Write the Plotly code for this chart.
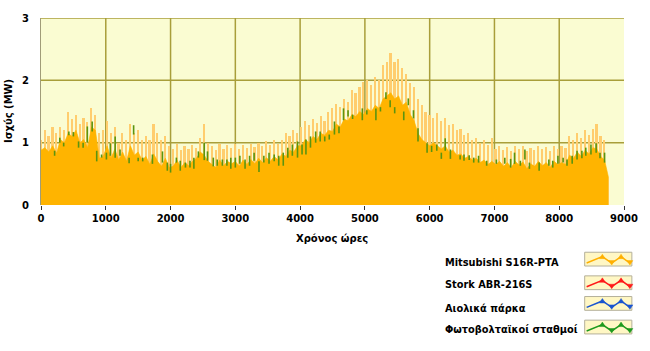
import plotly.graph_objects as go

# ---------------- data ----------------
HOURS = list(range(0, 8760, 60)) + [8759]

PEAK = [
    1.05, 1.2, 1.1, 1.25, 1.15, 1.25, 1.2, 1.5, 1.38, 1.45, 1.3, 1.4, 1.33, 1.55, 1.45, 1.15, 1.2,
    1.35, 1.15, 1.25, 1.0, 1.15, 1.05, 1.3, 1.15, 1.2, 1.05, 1.1, 1.05, 1.3, 1.15, 1.05, 1.1, 0.95,
    0.9, 0.98, 0.88, 0.95, 0.9, 0.97, 0.92, 1.08, 1.3, 1.0, 0.95, 0.88, 0.98, 0.9, 0.97, 0.92,
    0.98, 0.9, 0.97, 0.92, 0.98, 0.93, 1.0, 0.95, 1.02, 0.97, 1.05, 0.98, 1.05, 1.15, 1.1, 1.2, 1.15,
    1.25, 1.35, 1.28, 1.38, 1.32, 1.42, 1.35, 1.5, 1.55, 1.62, 1.58, 1.7, 1.65, 1.85, 1.8, 1.9, 1.98,
    2.0, 1.92, 2.05, 2.0, 2.25, 2.3, 2.44, 2.3, 2.35, 2.2, 2.1, 1.95, 1.9, 1.7, 1.6, 1.5,
    1.45, 1.4, 1.48, 1.35, 1.4, 1.28, 1.3, 1.2, 1.22, 1.12, 1.15, 1.05, 1.08, 1.0, 1.05, 0.97, 1.07,
    0.9, 0.95, 0.88, 0.93, 0.87, 0.95, 0.9, 0.94, 0.86, 0.92, 0.88, 0.95, 0.9, 0.93, 0.87, 0.95, 0.9,
    0.95, 0.92, 1.1, 1.05, 1.15, 1.08, 1.2, 1.12, 1.22, 1.3, 1.1, 1.05,
    0.45,
]

BASE = [
    0.88, 0.92, 0.85, 0.95, 0.83, 1.05, 1.0, 1.15, 1.1, 1.2, 1.0, 1.05, 0.92, 1.25, 1.2, 0.75, 0.78,
    0.95, 0.75, 0.9, 0.72, 0.85, 0.7, 0.95, 0.8, 0.85, 0.72, 0.78, 0.65, 0.82, 0.7, 0.62, 0.75, 0.6,
    0.62, 0.72, 0.6, 0.68, 0.63, 0.7, 0.75, 0.85, 0.8, 0.7, 0.65, 0.6, 0.72, 0.63, 0.7, 0.66,
    0.7, 0.62, 0.72, 0.65, 0.73, 0.66, 0.75, 0.68, 0.76, 0.7, 0.78, 0.72, 0.82, 0.78, 0.88, 0.85, 0.95,
    0.95, 1.05, 1.0, 1.1, 1.05, 1.15, 1.12, 1.2, 1.18, 1.3, 1.25, 1.38, 1.35, 1.45, 1.42, 1.5, 1.45,
    1.55, 1.5, 1.6, 1.55, 1.7, 1.75, 1.8, 1.7, 1.75, 1.6, 1.65, 1.45, 1.35, 1.15, 1.05, 1.0,
    0.95, 1.0, 0.95, 0.9, 0.95, 0.85, 0.88, 0.8, 0.82, 0.75, 0.78, 0.72, 0.75, 0.68, 0.72, 0.65, 0.7,
    0.65, 0.7, 0.62, 0.68, 0.6, 0.7, 0.64, 0.69, 0.58, 0.66, 0.62, 0.7, 0.63, 0.68, 0.6, 0.7, 0.65,
    0.68, 0.65, 0.8, 0.75, 0.85, 0.78, 0.88, 0.82, 0.92, 0.9, 0.78, 0.72,
    0.45,
]

# photovoltaic contribution segments: hour, low, high
PV_HOURS = [210, 290, 350, 430, 500, 580, 650, 715, 790, 860, 935, 1010, 1070, 1145, 1220, 1360, 1430,
            1500, 1570, 1720, 1875, 1950, 2000, 2090, 2150, 2230, 2300, 2360, 2430, 2520, 2570, 2660,
            2720, 2800, 2870, 2930, 3000, 3070, 3150, 3220, 3290, 3365, 3440, 3520, 3600, 3670, 3740,
            3810, 3880, 3960, 4030, 4090, 4160, 4240, 4310, 4380, 4450, 4530, 4600, 4670, 4740, 4810,
            4960, 5030, 5170, 5240, 5325, 5390, 5460, 5600, 5670, 5750, 5820, 5960, 6030, 6110, 6180,
            6240, 6320, 6470, 6530, 6610, 6680, 6755, 6880, 7030, 7160, 7250, 7310, 7400, 7470, 7540,
            7690, 7840, 7900, 7980, 8060, 8120, 8200, 8275, 8350, 8410, 8490, 8570, 8630, 8700]
PV_LO = [0.79, 1.0, 0.94, 1.12, 1.1, 0.92, 0.92, 1.0, 1.18, 0.7, 0.76, 0.73, 0.79, 0.76, 0.79, 0.67, 1.13,
         0.7, 0.7, 0.66, 0.68, 0.55, 0.52, 0.68, 0.55, 0.6, 0.6, 0.58, 0.76, 0.72, 0.71, 0.62,
         0.63, 0.63, 0.63, 0.58, 0.6, 0.66, 0.58, 0.63, 0.71, 0.53, 0.68, 0.66, 0.7, 0.63, 0.63,
         0.76, 0.79, 0.76, 0.81, 0.81, 0.92, 1.0, 1.02, 1.02, 1.05, 1.13, 1.15, 1.36, 1.42, 1.38,
         1.36, 1.45, 1.36, 1.5, 1.7, 1.57, 1.47, 1.36, 1.6, 1.39, 1.02, 0.84, 0.85, 0.87, 0.74,
         0.87, 0.74, 0.73, 0.71, 0.72, 0.68, 0.68, 0.63, 0.66, 0.66, 0.6, 0.66, 0.63, 0.73, 0.58,
         0.55, 0.63, 0.6, 0.66, 0.68, 0.63, 0.66, 0.73, 0.75, 0.79, 0.81, 0.84, 0.75, 0.68]
PV_HI = [0.87, 1.08, 1.0, 1.18, 1.17, 1.02, 1.0, 1.26, 1.34, 0.87, 0.81, 0.84, 0.99, 1.1, 0.89, 0.76, 1.28,
         0.76, 0.76, 0.81, 0.86, 0.68, 0.66, 0.76, 0.71, 0.68, 0.71, 0.76, 0.86, 1.0, 0.86, 0.76,
         0.73, 0.73, 0.73, 0.76, 0.76, 0.79, 0.73, 0.79, 0.84, 0.7, 0.79, 0.84, 0.81, 0.79, 0.84,
         0.92, 0.97, 1.02, 0.97, 1.05, 1.1, 1.18, 1.18, 1.1, 1.13, 1.34, 1.26, 1.55, 1.52, 1.45,
         1.55, 1.52, 1.55, 1.57, 1.81, 1.68, 1.57, 1.5, 1.71, 1.52, 1.23, 0.99, 0.95, 0.97, 0.84,
         1.07, 0.89, 0.8, 0.81, 0.8, 0.76, 0.79, 0.71, 0.73, 0.76, 0.74, 0.84, 0.71, 0.89, 0.68,
         0.68, 0.73, 0.71, 0.79, 0.76, 0.73, 0.79, 0.87, 0.87, 0.92, 0.97, 0.99, 0.84, 0.84]

X_TICKS = [0, 1000, 2000, 3000, 4000, 5000, 6000, 7000, 8000, 9000]
Y_TICKS = [0, 1, 2, 3]

LEGEND_NAMES = ["Mitsubishi S16R-PTA", "Stork ABR-216S", "Αιολικά πάρκα", "Φωτοβολταϊκοί σταθμοί"]
LEGEND_COLORS = ["#FFB000", "#FF1A1A", "#1A55D0", "#1E9A1E"]

X_TITLE = "Χρόνος ώρες"
Y_TITLE = "Ισχύς (MW)"

# ---------------- figure ----------------
W, H = 650, 351
ML, MR, MT, MB = 41, 16, 15, 146
PW, PH = W - ML - MR, H - MT - MB


def px2x(px):
    return (px - ML) / PW


def py2y(py):
    return (H - MB - py) / PH


fig = go.Figure()

fig.add_trace(go.Bar(x=HOURS, y=PEAK, width=26, marker=dict(color="#FFCD6E", line=dict(width=0)),
                     showlegend=False, hoverinfo="skip"))
fig.add_trace(go.Scatter(x=HOURS, y=BASE, mode="lines", line=dict(color="#FFB400", width=0.6),
                         fill="tozeroy", fillcolor="#FFB400", showlegend=False, hoverinfo="skip"))

gx, gy = [], []
for h, lo, hi in zip(PV_HOURS, PV_LO, PV_HI):
    gx += [h, h, None]
    gy += [lo, hi, None]
fig.add_trace(go.Scatter(x=gx, y=gy, mode="lines", line=dict(color="#5A9410", width=1.6),
                         showlegend=False, hoverinfo="skip"))

shapes = []
GRID = "#A89E3A"
for v in X_TICKS[1:-1]:
    shapes.append(dict(type="line", xref="x", yref="paper", x0=v, x1=v, y0=0, y1=1,
                       line=dict(color=GRID, width=1.5), layer="below"))
for v in Y_TICKS[1:]:
    shapes.append(dict(type="line", xref="paper", yref="y", x0=0, x1=1, y0=v, y1=v,
                       line=dict(color=GRID, width=1.5), layer="below"))

annotations = []
bold = dict(family="DejaVu Sans", size=10, color="#000000", weight="bold")

annotations.append(dict(text=X_TITLE, xref="paper", yref="paper", x=px2x(337), y=py2y(239),
                        showarrow=False, font=bold, xanchor="center", yanchor="middle"))
annotations.append(dict(text=Y_TITLE, xref="paper", yref="paper", x=px2x(8), y=py2y(110),
                        showarrow=False, font=bold, textangle=-90, xanchor="center", yanchor="middle"))

# custom legend
row_text_y = [263, 286, 310, 332]
row_box_top = [253, 277, 298, 322]
bx0, bx1 = 594, 642
for name, col, ty, bt in zip(LEGEND_NAMES, LEGEND_COLORS, row_text_y, row_box_top):
    annotations.append(dict(text=name, xref="paper", yref="paper", x=px2x(450), y=py2y(ty),
                            showarrow=False, font=dict(family="DejaVu Sans", size=9.8, color="#000", weight="bold"),
                            xanchor="left", yanchor="middle"))
    bb = bt + 14
    shapes.append(dict(type="rect", xref="paper", yref="paper", x0=px2x(bx0), x1=px2x(bx1),
                       y0=py2y(bb), y1=py2y(bt), fillcolor="#FFF7C4",
                       line=dict(color="#B4B09A", width=1)))
    lo_y, hi_y = bt + 11, bt + 4.5
    pts = [(596, lo_y), (612, hi_y), (621.5, lo_y), (631, hi_y), (640, lo_y)]
    path = "M " + " L ".join(f"{px2x(a):.5f},{py2y(b):.5f}" for a, b in pts)
    shapes.append(dict(type="path", xref="paper", yref="paper", path=path,
                       line=dict(color=col, width=1.5)))
    for k, (a, b) in enumerate(pts[1:]):
        if k % 2 == 0:  # peak -> up triangle
            tri = [(a, b - 2.5), (a - 3, b + 2), (a + 3, b + 2)]
        else:  # trough -> down triangle
            tri = [(a, b + 2), (a - 3, b - 2.5), (a + 3, b - 2.5)]
        tp = "M " + " L ".join(f"{px2x(u):.5f},{py2y(v):.5f}" for u, v in tri) + " Z"
        shapes.append(dict(type="path", xref="paper", yref="paper", path=tp,
                           fillcolor=col, line=dict(color=col, width=0.5)))

fig.update_layout(
    width=W, height=H, autosize=False,
    margin=dict(l=ML, r=MR, t=MT, b=MB, pad=0),
    paper_bgcolor="#FFFFFF", plot_bgcolor="#FAFCD2",
    shapes=shapes, annotations=annotations,
    showlegend=False, bargap=0,
    xaxis=dict(range=[0, 9000], tickvals=X_TICKS, ticktext=[str(v) for v in X_TICKS],
               ticks="outside", ticklen=4, tickwidth=1, tickcolor="#333333",
               showgrid=False, zeroline=False, showline=False,
               tickfont=bold, fixedrange=True),
    yaxis=dict(range=[0, 3], tickvals=Y_TICKS, ticktext=[str(v) for v in Y_TICKS],
               ticks="outside", ticklen=9, tickcolor="rgba(0,0,0,0)",
               showgrid=False, zeroline=False, showline=True, linecolor="#A09C78", linewidth=1,
               tickfont=bold, fixedrange=True),
)

fig.write_html("out.html")
